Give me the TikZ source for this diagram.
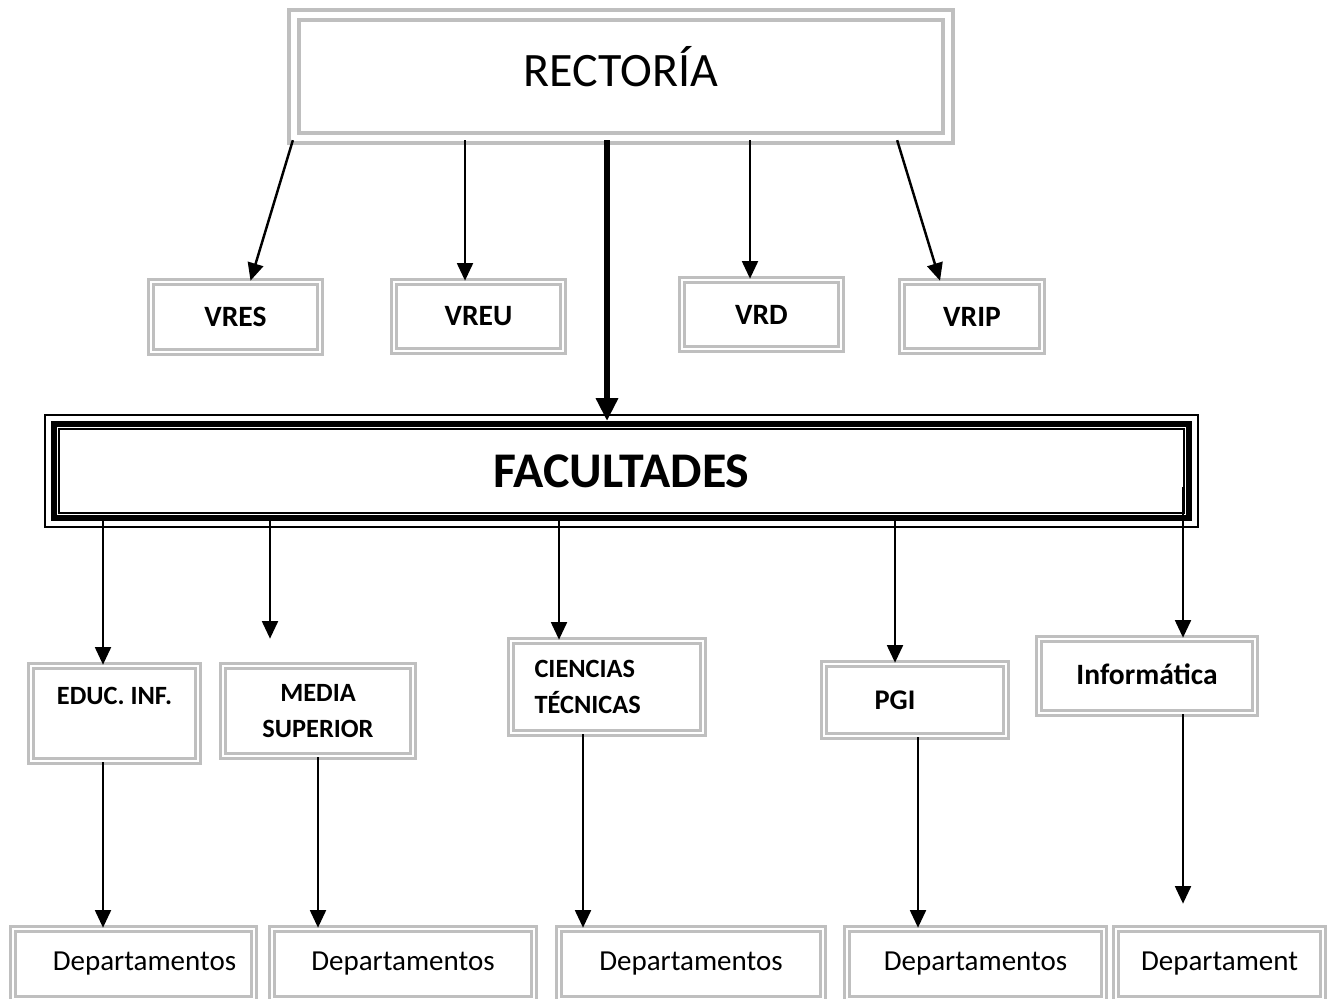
\documentclass[tikz,border=0pt]{standalone}
\usepackage{fontspec}
\setmainfont{Carlito}
\usetikzlibrary{positioning,arrows.meta,calc}

\begin{document}
\begin{tikzpicture}[
    x=0.02cm, y=-0.02cm,
    box/.style={draw=black!25, line width=1.5pt, double=white, double distance=1.3pt,
                inner sep=0pt, align=center},
    bigbox/.style={draw=black!25, line width=2.5pt, double=white, double distance=3pt,
                inner sep=0pt, align=center},
    facbox/.style={draw=black, line width=3.4pt, inner sep=0pt, align=center},
    thinframe/.style={draw=black, line width=1.1pt},
    arr/.style={-{Triangle[length=10pt,width=9pt]}, line width=1.4pt},
    bigarr/.style={-{Triangle[length=13pt,width=12pt]}, line width=3.6pt},
    vfont/.style={font=\fontsize{16.8}{20}\selectfont\bfseries},
    ffont/.style={font=\fontsize{15}{20}\selectfont\bfseries},
    dfont/.style={font=\fontsize{16.5}{19}\selectfont},
]
\useasboundingbox (0,0) rectangle (1328,998);
\clip (0,0) rectangle (1328,998);

% Row 0: Rectoria
\node[bigbox, minimum width=13.08cm, minimum height=2.46cm,
      font=\fontsize{27.3}{33}\selectfont] (rect) at (621,76.5) {\raisebox{0.4cm}{RECTORÍA}};

% Row 1: vicerrectorias
\node[box, vfont, minimum width=3.38cm, minimum height=1.40cm] (vres) at (235.5,317) {VRES};
\node[box, vfont, minimum width=3.38cm, minimum height=1.38cm] (vreu) at (478.5,316.5) {VREU};
\node[box, vfont, minimum width=3.18cm, minimum height=1.38cm] (vrd) at (761.5,314.5) {VRD};
\node[box, vfont, minimum width=2.80cm, minimum height=1.38cm] (vrip) at (972,316.5) {VRIP};

\draw[arr] ($(rect.south west)+(1,0)$) -- ([xshift=0.3cm]vres.north);
\draw[arr] ([xshift=-0.27cm]vreu.north |- rect.south) -- ([xshift=-0.27cm]vreu.north);
\draw[arr] ([xshift=-0.23cm]vrd.north |- rect.south) -- ([xshift=-0.23cm]vrd.north);
\draw[arr] ($(rect.south east)+(-53,0)$) -- ([xshift=-0.64cm]vrip.north);

% Row 2: Facultades (triple frame)
\node[facbox, minimum width=22.7cm, minimum height=1.88cm,
      font=\fontsize{28.4}{34}\selectfont\bfseries] (fac) at (621.5,471) {FACULTADES};
\draw[thinframe] ($(fac.north west)+(-6.2,-6.2)$) rectangle ($(fac.south east)+(6.2,6.2)$);
\draw[thinframe] ($(fac.north west)+(8.3,8.3)$) rectangle ($(fac.south east)+(-8.3,-8.3)$);

\draw[bigarr] ([xshift=-0.28cm]rect.south) -- ([xshift=-0.28cm]rect.south |- fac.north);

% Row 3: facultades
\node[box, ffont, minimum width=3.34cm, minimum height=1.90cm] (edu) at (114.5,713.5) {EDUC. INF.\\ \mbox{}};
\node[box, ffont, minimum width=3.80cm, minimum height=1.80cm] (med) at (318,711) {MEDIA\\SUPERIOR};
\node[box, ffont, minimum width=3.84cm, minimum height=1.84cm, text width=2.9cm,
      align=left] (cie) at (607,687) {CIENCIAS\\TÉCNICAS};
\node[box, ffont, font=\fontsize{16.2}{20}\selectfont\bfseries, minimum width=3.64cm,
      minimum height=1.44cm] (pgi) at (915,700) {\hspace*{-0.8cm}PGI};
\node[box, font=\fontsize{16.8}{20}\selectfont\bfseries, minimum width=4.32cm,
      minimum height=1.48cm] (inf) at (1147,676) {\raisebox{0.06cm}{Informática}};

\coordinate (infstart) at (1183,487);
\draw[arr] ([xshift=-0.23cm]edu.north |- fac.south) -- ([xshift=-0.23cm]edu.north);
\draw[arr] ([xshift=-0.96cm]med.north |- fac.south) -- ([xshift=-0.96cm,yshift=0.52cm]med.north);
\draw[arr] ([xshift=-0.96cm]cie.north |- fac.south) -- ([xshift=-0.96cm]cie.north);
\draw[arr] ([xshift=-0.4cm]pgi.north |- fac.south) -- ([xshift=-0.4cm]pgi.north);
\draw[arr] (infstart) -- (infstart |- inf.north);

% Row 4: departamentos
\node[box, dfont, minimum width=4.82cm, minimum height=1.40cm] (dep1) at (133.5,964) {\hspace*{0.44cm}Departamentos};
\node[box, dfont, minimum width=5.24cm, minimum height=1.40cm] (dep2) at (403,964) {Departamentos};
\node[box, dfont, minimum width=5.28cm, minimum height=1.40cm] (dep3) at (691,964) {Departamentos};
\node[box, dfont, minimum width=5.14cm, minimum height=1.40cm] (dep4) at (975.5,964) {Departamentos};
\node[box, dfont, minimum width=4.14cm, minimum height=1.40cm] (dep5) at (1219.5,964) {Departament};

\draw[arr] ([xshift=-0.23cm]edu.south) -- ([xshift=-0.23cm]edu.south |- dep1.north);
\draw[arr] (med.south) -- (med.south |- dep2.north);
\draw[arr] ([xshift=-0.48cm]cie.south) -- ([xshift=-0.48cm]cie.south |- dep3.north);
\draw[arr] ([xshift=0.06cm]pgi.south) -- ([xshift=0.06cm]pgi.south |- dep4.north);
\draw[arr] (infstart |- inf.south) -- ($(infstart |- dep5.north)+(0,-24)$);

\end{tikzpicture}
\end{document}
